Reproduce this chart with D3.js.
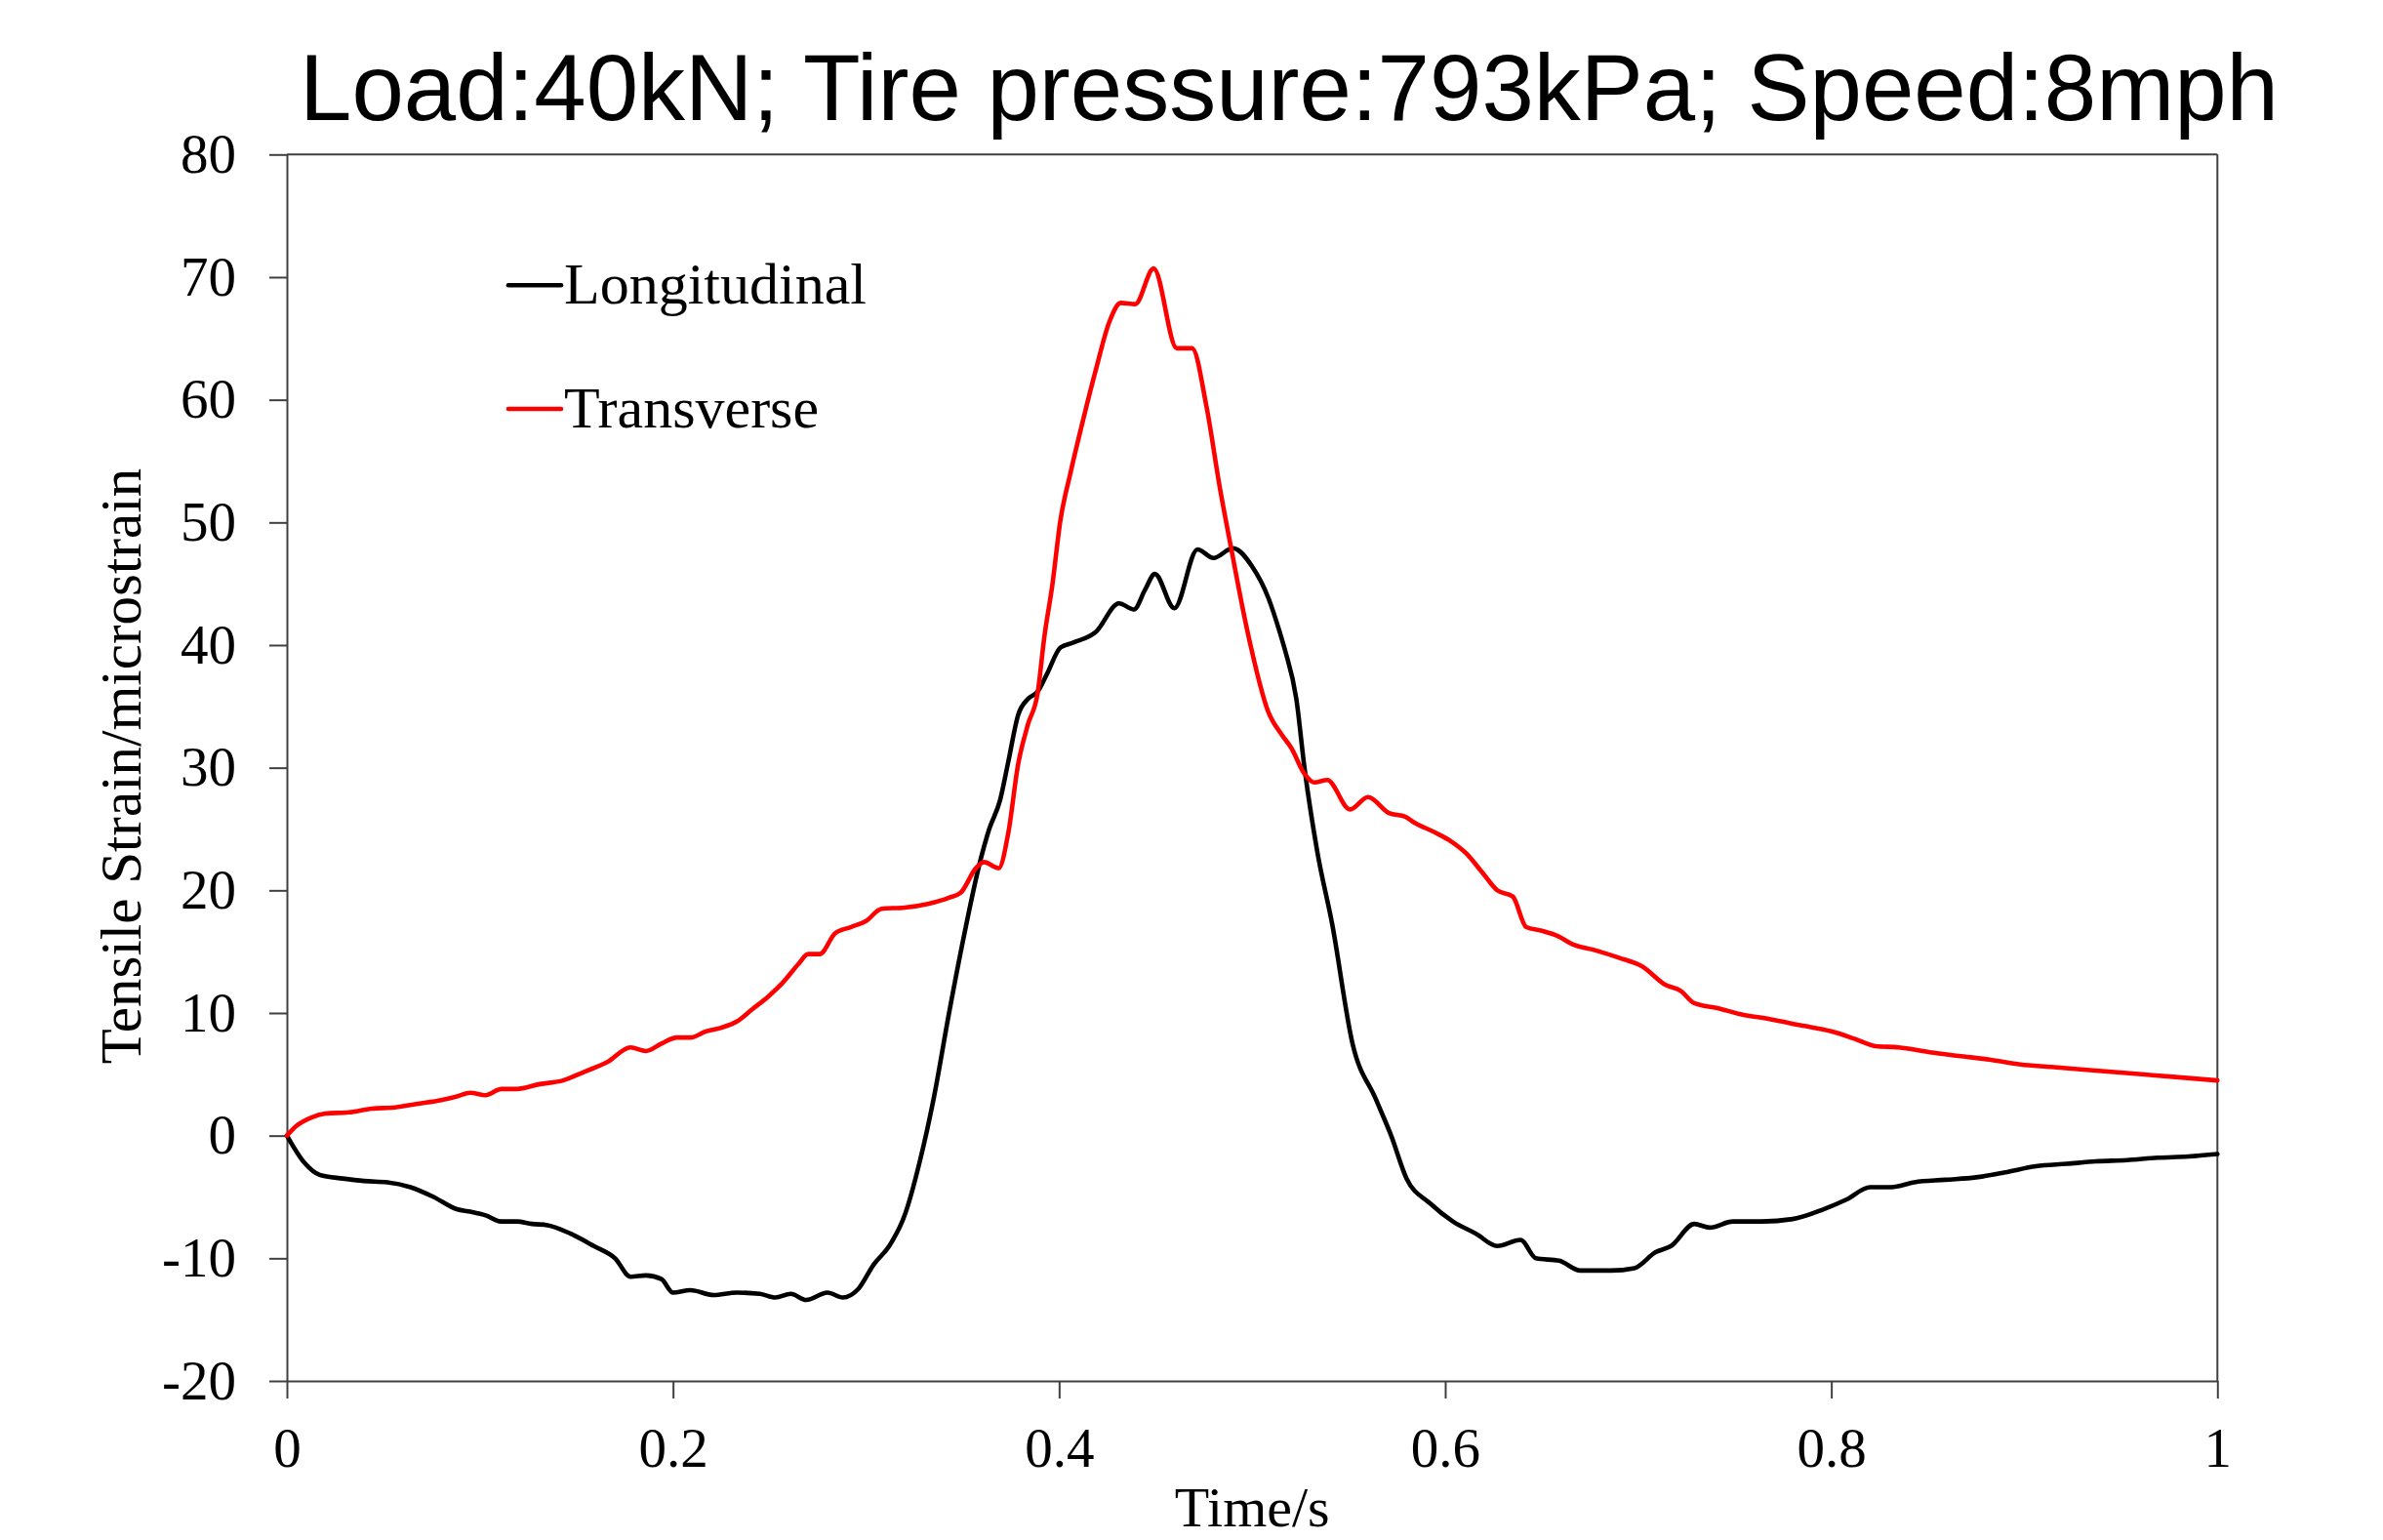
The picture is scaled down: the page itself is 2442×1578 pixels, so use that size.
<!DOCTYPE html>
<html><head><meta charset="utf-8">
<script src="https://cdn.jsdelivr.net/npm/d3@7"></script>
<style>html,body{margin:0;padding:0;background:#fff;}</style>
</head><body>
<svg id="chart" width="2442" height="1578"></svg>
<script>
const titleText = "Load:40kN; Tire pressure:793kPa; Speed:8mph";
const xLabel = "Time/s";
const yLabel = "Tensile Strain/microstrain";
const seriesNames = ["Longitudinal", "Transverse"];
const seriesColors = ["#000000", "#ff0000"];
const xTicks = [0, 0.2, 0.4, 0.6, 0.8, 1];
const xTickLabels = ["0", "0.2", "0.4", "0.6", "0.8", "1"];
const yTicks = [-20, -10, 0, 10, 20, 30, 40, 50, 60, 70, 80];

const timeL = [0, 0.009, 0.017, 0.029, 0.04, 0.052, 0.064, 0.076, 0.088, 0.095, 0.103, 0.111, 0.119, 0.127, 0.135, 0.147, 0.159, 0.17, 0.178, 0.186, 0.194, 0.2, 0.209, 0.221, 0.233, 0.245, 0.253, 0.261, 0.269, 0.28, 0.288, 0.296, 0.304, 0.312, 0.32, 0.328, 0.335, 0.343, 0.351, 0.359, 0.3636, 0.3695, 0.3737, 0.3788, 0.3838, 0.3889, 0.3939, 0.4007, 0.4074, 0.4192, 0.431, 0.4388, 0.4445, 0.4496, 0.4597, 0.4717, 0.48, 0.49, 0.5, 0.5085, 0.5144, 0.517, 0.5229, 0.5271, 0.5338, 0.5414, 0.552, 0.564, 0.572, 0.58, 0.592, 0.604, 0.616, 0.627, 0.639, 0.647, 0.659, 0.67, 0.686, 0.698, 0.709, 0.717, 0.729, 0.737, 0.749, 0.764, 0.78, 0.796, 0.808, 0.82, 0.831, 0.843, 0.859, 0.875, 0.89, 0.906, 0.922, 0.937, 0.953, 0.969, 0.985, 1];
const longitudinal = [0, -2.2, -3.2, -3.5, -3.7, -3.8, -4.2, -5, -6, -6.2, -6.5, -7, -7, -7.2, -7.3, -8, -9, -10, -11.5, -11.4, -11.7, -12.8, -12.6, -13, -12.8, -12.9, -13.2, -12.9, -13.4, -12.8, -13.2, -12.5, -10.5, -9, -6.5, -2, 3, 10, 16.5, 22.3, 24.9, 27.4, 30.5, 34.3, 35.6, 36.2, 37.7, 39.8, 40.2, 41.1, 43.4, 42.9, 44.5, 45.8, 43, 47.8, 47.1, 47.9, 46.4, 43.8, 41, 39.6, 35.6, 30, 23.1, 17.3, 7.5, 3, 0, -3.5, -5.5, -7, -8, -9, -8.5, -10, -10.2, -11, -11, -10.8, -9.5, -9, -7.2, -7.5, -7, -7, -6.8, -6, -5.2, -4.2, -4.2, -3.8, -3.6, -3.4, -3, -2.5, -2.3, -2.1, -2, -1.8, -1.7, -1.5];

const timeT = [0, 0.005, 0.013, 0.02, 0.032, 0.044, 0.056, 0.068, 0.08, 0.088, 0.095, 0.103, 0.111, 0.119, 0.131, 0.143, 0.154, 0.166, 0.178, 0.186, 0.194, 0.202, 0.209, 0.217, 0.225, 0.233, 0.241, 0.249, 0.257, 0.265, 0.27, 0.276, 0.284, 0.292, 0.3, 0.308, 0.32, 0.332, 0.343, 0.349, 0.3569, 0.3611, 0.3687, 0.3737, 0.3788, 0.3838, 0.3889, 0.3923, 0.3965, 0.4007, 0.4057, 0.4125, 0.4193, 0.4259, 0.432, 0.4394, 0.449, 0.461, 0.4689, 0.4764, 0.4833, 0.489, 0.4976, 0.5085, 0.5153, 0.5203, 0.5271, 0.5321, 0.5389, 0.5507, 0.56, 0.5709, 0.5793, 0.5843, 0.595, 0.603, 0.611, 0.619, 0.627, 0.635, 0.642, 0.65, 0.658, 0.666, 0.678, 0.69, 0.702, 0.714, 0.722, 0.729, 0.741, 0.753, 0.768, 0.784, 0.8, 0.812, 0.823, 0.835, 0.851, 0.866, 0.882, 0.898, 0.914, 0.929, 0.945, 0.961, 0.977, 1];
const transverse = [0, 0.8, 1.5, 1.8, 1.9, 2.2, 2.3, 2.6, 2.9, 3.2, 3.5, 3.3, 3.8, 3.8, 4.2, 4.5, 5.2, 6, 7.2, 6.9, 7.5, 8, 8, 8.5, 8.8, 9.3, 10.3, 11.3, 12.5, 14, 14.8, 14.8, 16.5, 17, 17.5, 18.5, 18.6, 18.9, 19.4, 19.8, 21.8, 22.3, 21.8, 24.7, 30.3, 33.5, 36.1, 40.6, 44.9, 50.2, 53.9, 58.4, 62.6, 66.3, 67.9, 67.8, 70.7, 64.2, 64.2, 59.4, 52.8, 48, 41.1, 34.5, 32.7, 31.6, 29.5, 28.8, 29, 26.6, 27.6, 26.3, 26, 25.5, 24.7, 24, 23, 21.5, 20, 19.5, 17, 16.7, 16.3, 15.6, 15.1, 14.5, 13.8, 12.3, 11.8, 10.8, 10.4, 9.9, 9.5, 9, 8.5, 7.9, 7.3, 7.2, 6.8, 6.5, 6.2, 5.8, 5.6, 5.4, 5.2, 5, 4.8, 4.5];

const svg = d3.select("#chart");
const plotLeft = 294, plotRight = 2272.3, plotTop = 158.3, plotBottom = 1415;
const x = d3.scaleLinear().domain([0, 1]).range([plotLeft, plotRight]);
const y = d3.scaleLinear().domain([-20, 80]).range([plotBottom, plotTop]);
const axisColor = "#404040";
const serif = "'Liberation Serif','Times New Roman',serif";

// frame (top, right)
svg.append("line").attr("x1", x(0)).attr("x2", x(1)).attr("y1", y(80)).attr("y2", y(80))
  .attr("stroke", axisColor).attr("stroke-width", 2);
svg.append("line").attr("x1", x(1)).attr("x2", x(1)).attr("y1", y(80)).attr("y2", y(-20))
  .attr("stroke", axisColor).attr("stroke-width", 2);

const xAxis = svg.append("g").attr("transform", `translate(0,${y(-20)})`)
  .call(d3.axisBottom(x).tickValues(xTicks).tickFormat((d, i) => xTickLabels[i]).tickSize(18).tickSizeOuter(0).tickPadding(30));
const yAxis = svg.append("g").attr("transform", `translate(${x(0)},0)`)
  .call(d3.axisLeft(y).tickValues(yTicks).tickFormat(d => String(d)).tickSize(18).tickSizeOuter(0).tickPadding(34));
[xAxis, yAxis].forEach(g => {
  g.selectAll("path.domain").attr("stroke", axisColor).attr("stroke-width", 2);
  g.selectAll(".tick line").attr("stroke", axisColor).attr("stroke-width", 2);
  g.selectAll(".tick text").attr("fill", "#000").style("font-family", serif).style("font-size", "57px");
});

const line = d3.line().curve(d3.curveMonotoneX);
const lData = timeL.map((t, i) => [x(t), y(longitudinal[i])]);
const tData = timeT.map((t, i) => [x(t), y(transverse[i])]);
svg.append("path").attr("d", line(lData)).attr("fill", "none").attr("stroke", seriesColors[0])
  .attr("stroke-width", 4.6).attr("stroke-linejoin", "round").attr("stroke-linecap", "round");
svg.append("path").attr("d", line(tData)).attr("fill", "none").attr("stroke", seriesColors[1])
  .attr("stroke-width", 4.6).attr("stroke-linejoin", "round").attr("stroke-linecap", "round");

// legend
const legY = [292.3, 419];
seriesNames.forEach((name, i) => {
  svg.append("line").attr("x1", 521).attr("x2", 575).attr("y1", legY[i]).attr("y2", legY[i])
    .attr("stroke", seriesColors[i]).attr("stroke-width", 4.6).attr("stroke-linecap", "round");
  svg.append("text").attr("x", 578).attr("y", legY[i] + 18.5).text(name)
    .style("font-family", serif).style("font-size", "60px").attr("fill", "#000");
});

// titles
svg.append("text").attr("x", 1321).attr("y", 122.7).attr("text-anchor", "middle").text(titleText)
  .style("font-family", "'Liberation Sans', Arial, sans-serif").style("font-size", "96px").attr("fill", "#000");
svg.append("text").attr("x", (plotLeft + plotRight) / 2).attr("y", 1564).attr("text-anchor", "middle").text(xLabel)
  .style("font-family", serif).style("font-size", "58px").attr("fill", "#000");
svg.append("text").attr("transform", "translate(144,785) rotate(-90)").attr("text-anchor", "middle").text(yLabel)
  .style("font-family", serif).style("font-size", "59px").attr("fill", "#000");
</script>
</body></html>
